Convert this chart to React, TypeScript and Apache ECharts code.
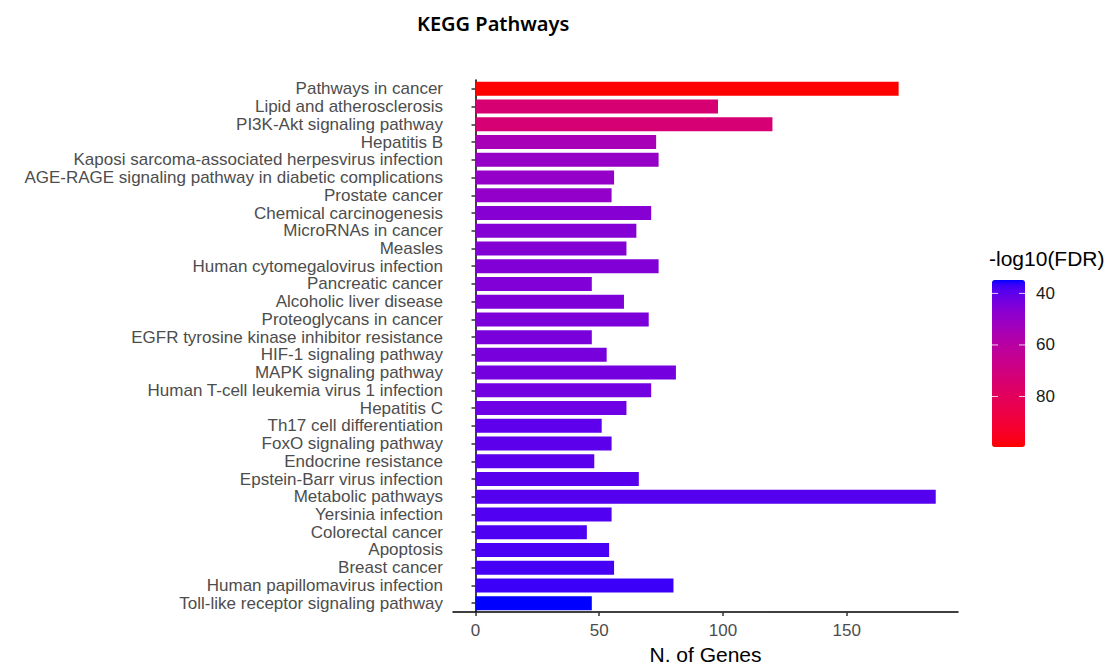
import React, { useEffect, useRef } from "react";
import * as echarts from "echarts";

const categories = [
  "Pathways in cancer",
  "Lipid and atherosclerosis",
  "PI3K-Akt signaling pathway",
  "Hepatitis B",
  "Kaposi sarcoma-associated herpesvirus infection",
  "AGE-RAGE signaling pathway in diabetic complications",
  "Prostate cancer",
  "Chemical carcinogenesis",
  "MicroRNAs in cancer",
  "Measles",
  "Human cytomegalovirus infection",
  "Pancreatic cancer",
  "Alcoholic liver disease",
  "Proteoglycans in cancer",
  "EGFR tyrosine kinase inhibitor resistance",
  "HIF-1 signaling pathway",
  "MAPK signaling pathway",
  "Human T-cell leukemia virus 1 infection",
  "Hepatitis C",
  "Th17 cell differentiation",
  "FoxO signaling pathway",
  "Endocrine resistance",
  "Epstein-Barr virus infection",
  "Metabolic pathways",
  "Yersinia infection",
  "Colorectal cancer",
  "Apoptosis",
  "Breast cancer",
  "Human papillomavirus infection",
  "Toll-like receptor signaling pathway",
];

const geneCounts = [
  171, 98, 120, 73, 74, 56, 55, 71, 65, 61, 74, 47, 60, 70, 47, 53, 81, 71, 61,
  51, 55, 48, 66, 186, 55, 45, 54, 56, 80, 47,
];

const fdrScores = [
  99.6, 73.5, 73, 54.5, 50, 49.5, 49, 46.5, 46, 45.8, 45.5, 45.2, 44.9, 44.6,
  44.2, 43.8, 43.3, 42.8, 42, 40, 39.8, 39.6, 39.4, 39, 38.6, 38.2, 37.9, 37.6,
  36.8, 34.8,
];

const xTicks = [0, 50, 100, 150];
const legendTicks = [40, 60, 80];
const lowColor = "#0000FF";
const highColor = "#FF0000";

// --- Lab interpolation (as in ggplot's gradient scale) ---
function toLin(c: number) {
  c /= 255;
  return c <= 0.04045 ? c / 12.92 : Math.pow((c + 0.055) / 1.055, 2.4);
}
function toSrgb(c: number) {
  c = Math.max(0, Math.min(1, c));
  const v = c <= 0.0031308 ? 12.92 * c : 1.055 * Math.pow(c, 1 / 2.4) - 0.055;
  return Math.round(v * 255);
}
const WX = 0.95047, WY = 1.0, WZ = 1.08883;
function hexToLab(hex: string) {
  const r = toLin(parseInt(hex.slice(1, 3), 16));
  const g = toLin(parseInt(hex.slice(3, 5), 16));
  const b = toLin(parseInt(hex.slice(5, 7), 16));
  const X = (0.4124 * r + 0.3576 * g + 0.1805 * b) / WX;
  const Y = (0.2126 * r + 0.7152 * g + 0.0722 * b) / WY;
  const Z = (0.0193 * r + 0.1192 * g + 0.9505 * b) / WZ;
  const f = (t: number) => (t > 0.008856 ? Math.cbrt(t) : 7.787 * t + 16 / 116);
  const fx = f(X), fy = f(Y), fz = f(Z);
  return [116 * fy - 16, 500 * (fx - fy), 200 * (fy - fz)];
}
function labToHex(L: number, a: number, bb: number) {
  const fy = (L + 16) / 116;
  const fx = fy + a / 500;
  const fz = fy - bb / 200;
  const inv = (t: number) => (t > 0.206893 ? t * t * t : (t - 16 / 116) / 7.787);
  const X = WX * inv(fx), Y = WY * inv(fy), Z = WZ * inv(fz);
  const r = 3.2406 * X - 1.5372 * Y - 0.4986 * Z;
  const g = -0.9689 * X + 1.8758 * Y + 0.0415 * Z;
  const b = 0.0557 * X - 0.204 * Y + 1.057 * Z;
  const h = (v: number) => toSrgb(v).toString(16).padStart(2, "0");
  return "#" + h(r) + h(g) + h(b);
}
function labRamp(c1: string, c2: string, n: number) {
  const A = hexToLab(c1), B = hexToLab(c2);
  const out: string[] = [];
  for (let i = 0; i < n; i++) {
    const t = i / (n - 1);
    out.push(labToHex(A[0] + (B[0] - A[0]) * t, A[1] + (B[1] - A[1]) * t, A[2] + (B[2] - A[2]) * t));
  }
  return out;
}

export default function App() {
  const ref = useRef<HTMLDivElement>(null);
  useEffect(() => {
    if (!ref.current) return;
    const chart = echarts.init(ref.current, null, { renderer: "svg", width: 1116, height: 670 });
    const fdrMin = Math.min(...fdrScores);
    const fdrMax = Math.max(...fdrScores);
    const palette = labRamp(lowColor, highColor, 41);

    const barLeft = 992, barTop = 280, barW = 33, barH = 167;
    const legY = (v: number) => barTop + ((v - fdrMin) / (fdrMax - fdrMin)) * barH;

    const legendGraphics: any[] = [
      {
        type: "text",
        left: 989,
        top: 248,
        style: { text: "-log10(FDR)", fontFamily: "Liberation Sans", fontSize: 21, fill: "#000" },
      },
    ];
    legendTicks.forEach((v) => {
      const y = legY(v);
      legendGraphics.push({
        type: "line",
        shape: { x1: barLeft, y1: y, x2: barLeft + 6, y2: y },
        style: { stroke: "rgba(255,255,255,0.8)", lineWidth: 1 },
        z: 100,
      });
      legendGraphics.push({
        type: "line",
        shape: { x1: barLeft + barW - 6, y1: y, x2: barLeft + barW, y2: y },
        style: { stroke: "rgba(255,255,255,0.8)", lineWidth: 1 },
        z: 100,
      });
      legendGraphics.push({
        type: "text",
        x: barLeft + barW + 11,
        y,
        style: {
          text: String(v),
          fontFamily: "Liberation Sans",
          fontSize: 17,
          fill: "#1a1a1a",
          verticalAlign: "middle",
          align: "left",
        },
      });
    });

    chart.setOption({
      animation: false,
      backgroundColor: "#ffffff",
      title: {
        text: "KEGG Pathways",
        left: 412,
        top: 8,
        textStyle: { fontFamily: "Noto Sans", fontWeight: 600, fontSize: 20, color: "#000" },
      },
      grid: { left: 453, top: 80, width: 505, height: 536, containLabel: false },
      xAxis: {
        type: "value",
        min: -9.1,
        max: 195,
        splitLine: { show: false },
        axisLine: { show: true, lineStyle: { color: "#000", width: 1.5 } },
        axisTick: { show: true, customValues: xTicks, length: 4, lineStyle: { color: "#333", width: 1.5 } },
        axisLabel: {
          customValues: xTicks,
          margin: 10,
          fontFamily: "Liberation Sans",
          fontSize: 17,
          color: "#4d4d4d",
        },
        name: "N. of Genes",
        nameLocation: "middle",
        nameGap: 32,
        nameTextStyle: { fontFamily: "Liberation Sans", fontSize: 21, color: "#000" },
      },
      yAxis: {
        type: "category",
        data: categories,
        inverse: true,
        axisLine: { show: true, lineStyle: { color: "#000", width: 1.5 } },
        axisTick: { show: true, alignWithLabel: true, length: 4, lineStyle: { color: "#333", width: 1.5 } },
        axisLabel: {
          interval: 0,
          margin: 10,
          fontFamily: "Liberation Sans",
          fontSize: 17,
          color: "#4d4d4d",
        },
        splitLine: { show: false },
      },
      visualMap: {
        type: "continuous",
        dimension: 2,
        seriesIndex: 0,
        min: fdrMin,
        max: fdrMax,
        inverse: true,
        orient: "vertical",
        calculable: false,
        hoverLink: false,
        left: barLeft,
        top: barTop,
        itemWidth: barW,
        itemHeight: barH,
        padding: 0,
        inRange: { color: palette },
      },
      graphic: legendGraphics,
      series: [
        {
          type: "bar",
          data: categories.map((c, i) => [geneCounts[i], c, fdrScores[i]]),
          encode: { x: 0, y: 1 },
          barWidth: 14,
          itemStyle: { borderWidth: 0 },
        },
      ],
    });
    return () => chart.dispose();
  }, []);
  return (
    <div
      ref={ref}
      style={{ position: "fixed", left: 0, top: 0, width: 1116, height: 670, background: "#fff" }}
    />
  );
}
